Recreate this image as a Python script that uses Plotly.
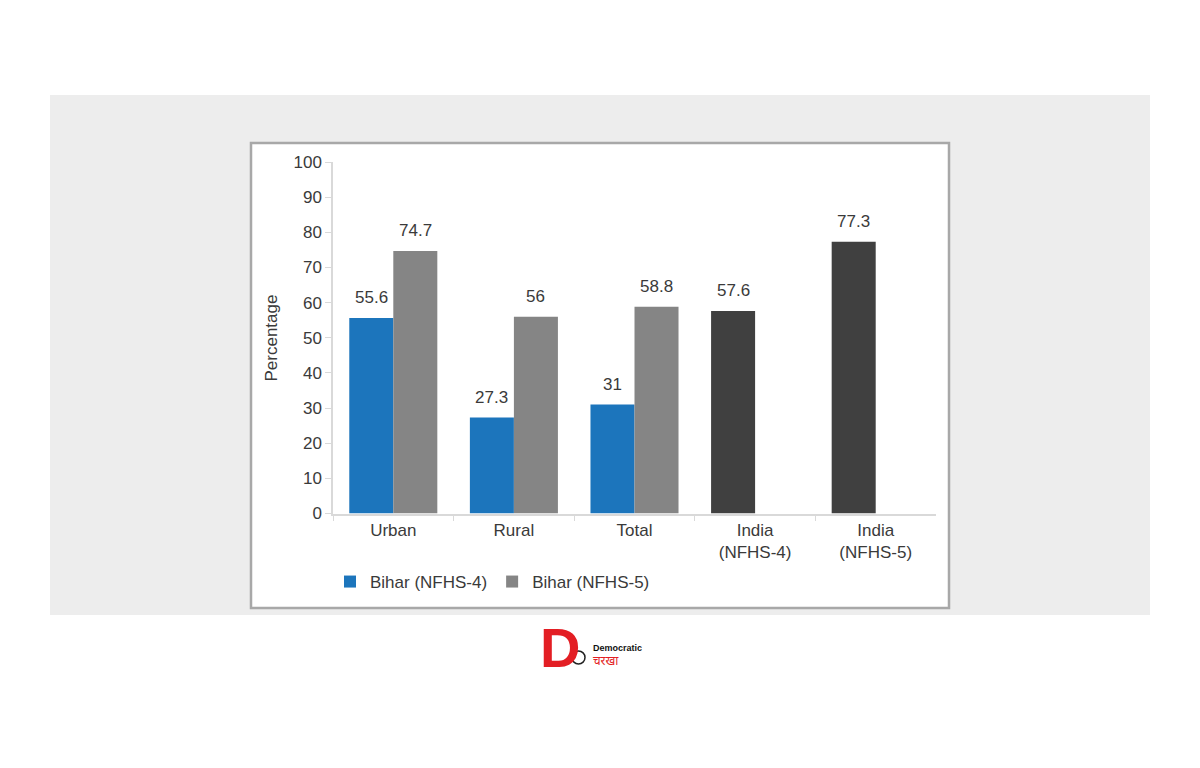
import plotly.graph_objects as go

categories = ["Urban", "Rural", "Total", "India<br>(NFHS-4)", "India<br>(NFHS-5)"]
nfhs4_values = [55.6, 27.3, 31, 57.6, 77.3]
nfhs5_values = [74.7, 56, 58.8, None, None]
nfhs4_colors = ["#1c75bc", "#1c75bc", "#1c75bc", "#404040", "#404040"]
label_fmt = lambda v: ("%g" % v)

W, H = 1200, 768
def px(x): return x / W
def py(y): return 1 - y / H

fig = go.Figure()
fig.add_trace(go.Bar(x=categories, y=nfhs4_values, name="Bihar (NFHS-4)",
                     marker=dict(color=nfhs4_colors, line=dict(width=0))))
fig.add_trace(go.Bar(x=categories, y=nfhs5_values, name="Bihar (NFHS-5)",
                     marker=dict(color="#858585", line=dict(width=0))))

annotations = []
for i, c in enumerate(categories):
    for vals, shift in ((nfhs4_values, -22), (nfhs5_values, 22)):
        v = vals[i]
        if v is None:
            continue
        annotations.append(dict(x=c, y=v, xref="x", yref="y", text=label_fmt(v),
                                showarrow=False, yanchor="bottom", xshift=shift, yshift=9,
                                font=dict(family="Liberation Sans, Arial", size=17, color="#3a3a3a")))

# y-axis title
annotations.append(dict(x=px(259), y=py(338), xref="paper", yref="paper", text="Percentage",
                        showarrow=False, textangle=-90,
                        font=dict(family="Liberation Sans, Arial", size=17, color="#3a3a3a")))
# logo
annotations.append(dict(x=px(560), y=py(647), xref="paper", yref="paper", text="<b>D</b>",
                        showarrow=False, yanchor="middle",
                        font=dict(family="Liberation Sans, Arial", size=56, color="#e31e24")))
annotations.append(dict(x=px(591), y=py(648), xref="paper", yref="paper", text="<b>Democratic</b>",
                        showarrow=False, xanchor="left", yanchor="middle",
                        font=dict(family="Liberation Sans, Arial", size=9, color="#111111")))
annotations.append(dict(x=px(591), y=py(660), xref="paper", yref="paper", text="चरखा",
                        showarrow=False, xanchor="left", yanchor="middle",
                        font=dict(family="Noto Sans, sans-serif", size=12, color="#e31e24")))

shapes = [
    dict(type="rect", xref="paper", yref="paper", x0=px(50), x1=px(1150), y0=py(615), y1=py(95),
         fillcolor="#ededed", line=dict(width=0), layer="below"),
    dict(type="rect", xref="paper", yref="paper", x0=px(251), x1=px(949), y0=py(608), y1=py(143),
         fillcolor="#ffffff", line=dict(color="#a8a8a8", width=2.5), layer="below"),
    dict(type="circle", xref="paper", yref="paper", x0=px(572), x1=px(585), y0=py(664), y1=py(651),
         fillcolor="#ffffff", line=dict(color="#222222", width=1.5)),
]

fig.update_layout(
    width=W, height=H, margin=dict(l=0, r=0, t=0, b=0, autoexpand=False),
    paper_bgcolor="#ffffff", plot_bgcolor="rgba(0,0,0,0)",
    barmode="group", bargap=0.27, bargroupgap=0,
    showlegend=True,
    legend=dict(orientation="h", x=px(330), y=py(582), xanchor="left", yanchor="middle",
                font=dict(family="Liberation Sans, Arial", size=17, color="#3a3a3a"),
                bgcolor="rgba(0,0,0,0)", itemwidth=30, tracegroupgap=0),
    xaxis=dict(domain=[px(333), px(936)], showline=True, linecolor="#d9d9d9", linewidth=1.5,
               ticks="outside", ticklen=6, tickcolor="#d9d9d9", tickson="boundaries",
               showgrid=False, automargin=False,
               tickfont=dict(family="Liberation Sans, Arial", size=17, color="#3a3a3a")),
    yaxis=dict(domain=[py(513.5), py(162)], range=[0, 100], dtick=10, showline=True,
               linecolor="#d9d9d9", linewidth=1.5, ticks="outside", ticklen=6, tickcolor="#d9d9d9",
               showgrid=False, zeroline=False, automargin=False,
               tickfont=dict(family="Liberation Sans, Arial", size=17, color="#3a3a3a")),
    annotations=annotations, shapes=shapes,
)

fig.write_html("out.html", config={"displayModeBar": False},
               post_script="document.body.style.margin='0';document.body.style.overflow='hidden';")
